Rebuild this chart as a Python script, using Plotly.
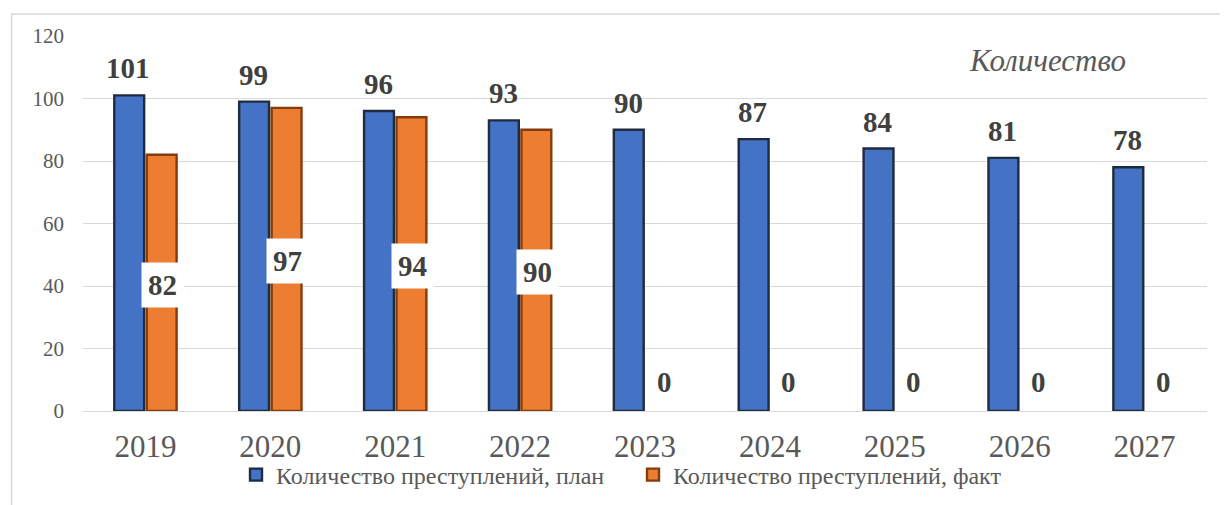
import plotly.graph_objects as go

years = ["2019", "2020", "2021", "2022", "2023", "2024", "2025", "2026", "2027"]
plan = [101, 99, 96, 93, 90, 87, 84, 81, 78]
fact = [82, 97, 94, 90, 0, 0, 0, 0, 0]
plan_name = "Количество преступлений, план"
fact_name = "Количество преступлений, факт"
y_ticks = [0, 20, 40, 60, 80, 100, 120]

SERIF = "Liberation Serif, DejaVu Serif, serif"
GRAY = "#595959"
LABEL = "#404040"

fig = go.Figure()
fig.add_trace(go.Bar(x=years, y=plan, name=plan_name,
                     marker=dict(color="#4472C4",
                                 line=dict(color="#1f2b3f", width=[2.4 if v > 0 else 0 for v in plan]))))
fig.add_trace(go.Bar(x=years, y=fact, name=fact_name,
                     marker=dict(color="#ED7D31",
                                 line=dict(color="#843C0C", width=[2.4 if v > 0 else 0 for v in fact]))))

ann = []
for i, v in enumerate(plan):
    ann.append(dict(x=i, y=v, xref="x", yref="y", text=f"<b>{v}</b>", showarrow=False,
                    xshift=-17, yshift=9, yanchor="bottom",
                    font=dict(family=SERIF, size=29, color=LABEL)))
for i, v in enumerate(fact):
    if v > 0:
        ann.append(dict(x=i, y=v / 2, xref="x", yref="y", text=f"<b>{v}</b>", showarrow=False,
                        xshift=17, yshift=-2, yanchor="middle", bgcolor="white", borderpad=6,
                        font=dict(family=SERIF, size=29, color=LABEL)))
    else:
        ann.append(dict(x=i, y=v, xref="x", yref="y", text=f"<b>{v}</b>", showarrow=False,
                        xshift=19, yshift=11, yanchor="bottom",
                        font=dict(family=SERIF, size=29, color=LABEL)))
ann.append(dict(xref="paper", yref="paper", x=(1048 - 82.5) / 1125, y=1 - (60 - 36) / 375,
                xanchor="center", yanchor="middle", text="<i>Количество</i>", showarrow=False,
                font=dict(family=SERIF, size=31, color=GRAY)))

fig.update_layout(
    width=1228, height=505,
    margin=dict(l=74.5, r=28.5, t=28, b=102),
    paper_bgcolor="white", plot_bgcolor="white",
    barmode="group", bargap=0.48, bargroupgap=0.08,
    annotations=ann,
    showlegend=True,
    legend=dict(orientation="h", x=(633 - 82.5) / 1125, xanchor="center",
                y=-(475 - 411) / 375, yanchor="middle", bgcolor="rgba(0,0,0,0)",
                font=dict(family=SERIF, size=24, color=GRAY),
                itemwidth=30, entrywidthmode="pixels", entrywidth=352),
    xaxis=dict(type="category", range=[-0.5, len(years) - 0.5], showgrid=False,
               showline=False, ticks="", ticklabelstandoff=14,
               tickfont=dict(family=SERIF, size=31, color=GRAY)),
    yaxis=dict(range=[0, 120], tickvals=y_ticks, showgrid=True, gridcolor="#d9d9d9",
               gridwidth=1.3, zeroline=True, zerolinecolor="#d9d9d9", zerolinewidth=1.3,
               ticks="", ticklabelstandoff=18,
               tickfont=dict(family=SERIF, size=21, color=GRAY)),
    shapes=[dict(type="rect", xref="paper", yref="paper",
                 x0=-(82.5 - 11) / 1125, x1=(1240 - 82.5) / 1125,
                 y0=-(520 - 411) / 375, y1=1 + (36 - 14) / 375,
                 line=dict(color="#d9d9d9", width=1.5), fillcolor="rgba(0,0,0,0)", layer="below")],
)
fig.write_html("out.html")
